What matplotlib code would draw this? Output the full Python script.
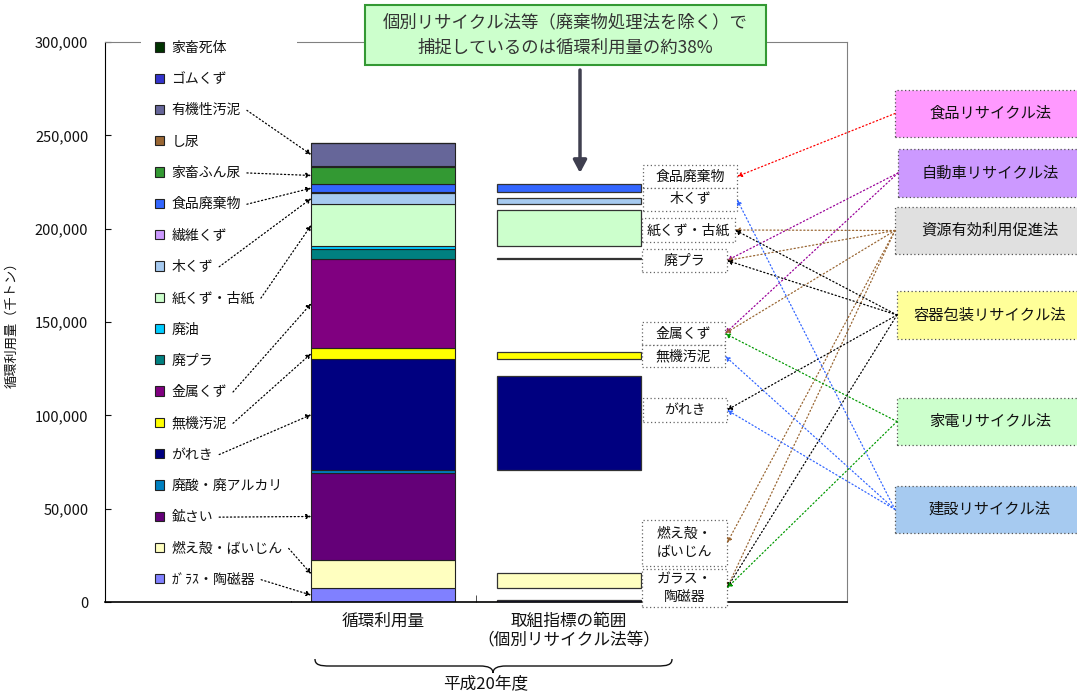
import numpy as np
import matplotlib
matplotlib.use("Agg")
import matplotlib.pyplot as plt
from matplotlib.patches import Rectangle, FancyArrowPatch, PathPatch
from matplotlib.path import Path
from matplotlib.ticker import FuncFormatter

plt.rcParams['font.family'] = ['Noto Sans CJK JP', 'DejaVu Sans']

# 循環利用量の内訳（千トン）、下から積み上げ順
items = ['ｶﾞﾗｽ・陶磁器', '燃え殻・ばいじん', '鉱さい', '廃酸・廃アルカリ', 'がれき', '無機汚泥',
         '金属くず', '廃プラ', '廃油', '紙くず・古紙', '木くず', '繊維くず', '食品廃棄物',
         '家畜ふん尿', 'し尿', '有機性汚泥', 'ゴムくず', '家畜死体']
total = [7350, 15200, 46500, 1400, 59800, 5800, 47800, 5000, 1800, 22500, 6100, 400,
         4100, 9500, 100, 12500, 100, 50]
# 個別リサイクル法等で捕捉している分
in_scope = [1100, 8400, 0, 0, 50600, 3900, 0, 700, 0, 19300, 3400, 0,
            4100, 0, 0, 0, 0, 0]
colors = ['#8080FF', '#FFFFC0', '#640078', '#0080C0', '#000080', '#FFFF00',
          '#800080', '#008080', '#00CCFF', '#CCFFCC', '#A6CAF0', '#CC99FF',
          '#3366FF', '#339933', '#996633', '#666699', '#3333CC', '#003300']
x_labels = ['循環利用量', '取組指標の範囲\n（個別リサイクル法等）']
pointed = ['有機性汚泥', '家畜ふん尿', '食品廃棄物', '木くず', '紙くず・古紙', '金属くず',
           '無機汚泥', 'がれき', '鉱さい', '燃え殻・ばいじん', 'ｶﾞﾗｽ・陶磁器']

W, H = 1077, 693


def fx(x):
    return x / W


def fy(y):
    return 1 - y / H


fig = plt.figure(figsize=(W / 100, H / 100), dpi=100)
ax = fig.add_axes([fx(105), fy(602), 742 / W, 560 / H])

bw = 0.776
bottoms = np.concatenate([[0], np.cumsum(total)[:-1]])
bars = []
for i, name in enumerate(items):
    bars.append(ax.bar(1, total[i], bottom=bottoms[i], width=bw, color=colors[i],
                       edgecolor='#222222', linewidth=0.8, label=name))
    if in_scope[i] > 0:
        ax.bar(2, in_scope[i], bottom=bottoms[i], width=bw, color=colors[i],
               edgecolor='#333333', linewidth=0.9)

ax.set_xlim(-0.5, 3.5)
ax.set_ylim(0, 300000)
ax.set_yticks(np.arange(0, 300001, 50000))
ax.yaxis.set_major_formatter(FuncFormatter(lambda v, p: f'{v:,.0f}'))
ax.tick_params(axis='y', direction='in', length=4, pad=12, labelsize=10.5, colors='#111111')
ax.set_xticks([1, 2])
ax.set_xticklabels(x_labels, fontsize=12, color='#111111')
ax.tick_params(axis='x', which='major', length=0, pad=8)
ax.set_xticks([0.5, 1.5, 2.5], minor=True)
ax.tick_params(axis='x', which='minor', direction='in', length=5, color='#333333')
ax.set_ylabel('循環利用量（千トン）', fontsize=9.5, color='#111111')
ax.yaxis.set_label_coords(-0.117, 0.5)
for s in ['top', 'right']:
    ax.spines[s].set_color('#808080')
ax.spines['left'].set_color('black')
ax.spines['bottom'].set_color('black')
ax.spines['bottom'].set_linewidth(1.2)

leg = ax.legend(handles=bars[::-1], loc='upper left', bbox_to_anchor=(0.0485, 1.027),
                borderaxespad=0, frameon=True, fancybox=False, framealpha=1,
                facecolor='white', edgecolor='none', fontsize=10, handlelength=0.65,
                handleheight=0.65, handletextpad=0.55, labelspacing=1.245, borderpad=1.0)
for t in leg.get_texts():
    t.set_color('#111111')

# 見出しの枠と下向き矢印
fig.add_artist(Rectangle((fx(365), fy(65)), 401 / W, 60 / H, transform=fig.transFigure,
                         facecolor='#CCFFCC', edgecolor='#339933', linewidth=1.5))
fig.text(fx(565), fy(22), '個別リサイクル法等（廃棄物処理法を除く）で', ha='center', va='center',
         fontsize=12.5, color='#333333')
fig.text(fx(565), fy(48), '捕捉しているのは循環利用量の約38%', ha='center', va='center',
         fontsize=12.5, color='#333333')
fig.add_artist(FancyArrowPatch((fx(580), fy(70)), (fx(580), fy(173)), transform=fig.transFigure,
                               arrowstyle='-|>,head_length=0.75,head_width=0.4', mutation_scale=10,
                               color='#3F3F4F', linewidth=2.5, shrinkA=0, shrinkB=0))

# 品目ラベル枠 (x0, y0, x1, y1)
label_boxes = {
    '食品廃棄物': ('食品廃棄物', (643, 165, 737, 188)),
    '木くず': ('木くず', (643, 188, 737, 211)),
    '紙くず・古紙': ('紙くず・古紙', (642, 218, 735, 242)),
    '廃プラ': ('廃プラ', (642, 249, 727, 272)),
    '金属くず': ('金属くず', (642, 322, 725, 345)),
    '無機汚泥': ('無機汚泥', (642, 345, 725, 367)),
    'がれき': ('がれき', (643, 398, 727, 422)),
    '燃え殻・ばいじん': ('燃え殻・\nばいじん', (642, 520, 727, 566)),
    'ガラス・陶磁器': ('ガラス・\n陶磁器', (642, 569, 727, 607)),
}
# 法律の枠
law_boxes = {
    '食品リサイクル法': ('#FF99FF', (895, 90, 1085, 137)),
    '自動車リサイクル法': ('#CC99FF', (898, 149, 1085, 197)),
    '資源有効利用促進法': ('#E0E0E0', (895, 207, 1085, 254)),
    '容器包装リサイクル法': ('#FFFF99', (897, 291, 1085, 339)),
    '家電リサイクル法': ('#CCFFCC', (897, 398, 1085, 445)),
    '建設リサイクル法': ('#A6CAF0', (895, 486, 1085, 533)),
}
law_colors = {
    '食品リサイクル法': '#FF0000',
    '自動車リサイクル法': '#990099',
    '資源有効利用促進法': '#996633',
    '容器包装リサイクル法': '#000000',
    '家電リサイクル法': '#009900',
    '建設リサイクル法': '#3366FF',
}
links = [
    ('食品リサイクル法', '食品廃棄物'),
    ('自動車リサイクル法', '廃プラ'), ('自動車リサイクル法', '金属くず'),
    ('資源有効利用促進法', '紙くず・古紙'), ('資源有効利用促進法', '廃プラ'),
    ('資源有効利用促進法', '金属くず'), ('資源有効利用促進法', '燃え殻・ばいじん'),
    ('資源有効利用促進法', 'ガラス・陶磁器'),
    ('容器包装リサイクル法', '紙くず・古紙'), ('容器包装リサイクル法', '廃プラ'),
    ('容器包装リサイクル法', 'がれき'), ('容器包装リサイクル法', 'ガラス・陶磁器'),
    ('家電リサイクル法', '金属くず'), ('家電リサイクル法', 'ガラス・陶磁器'),
    ('建設リサイクル法', '木くず'), ('建設リサイクル法', '無機汚泥'),
    ('建設リサイクル法', 'がれき'),
]

dot = (0, (1, 2))


def box(rect, fc, ec):
    x0, y0, x1, y1 = rect
    fig.add_artist(Rectangle((fx(x0), fy(y1)), (x1 - x0) / W, (y1 - y0) / H,
                             transform=fig.transFigure, facecolor=fc, edgecolor=ec,
                             linewidth=0.9, linestyle=dot, zorder=2))


for key, (text, rect) in label_boxes.items():
    box(rect, 'white', '#666666')
    fig.text(fx((rect[0] + rect[2]) / 2), fy((rect[1] + rect[3]) / 2), text, ha='center',
             va='center', fontsize=10, color='#111111', linespacing=1.3, zorder=3)

for key, (fc, rect) in law_boxes.items():
    box(rect, fc, '#555555')
    fig.text(fx(990), fy((rect[1] + rect[3]) / 2), key, ha='center', va='center',
             fontsize=11, color='#111111', zorder=3)

for law, item in links:
    lx0, ly0, lx1, ly1 = law_boxes[law][1]
    bx0, by0, bx1, by1 = label_boxes[item][1]
    fig.add_artist(FancyArrowPatch((fx(lx0), fy((ly0 + ly1) / 2)), (fx(bx1), fy((by0 + by1) / 2)),
                                   transform=fig.transFigure, arrowstyle='-|>', mutation_scale=7,
                                   color=law_colors[law], linewidth=0.9, linestyle=dot,
                                   shrinkA=0, shrinkB=0, zorder=4))

# 年度の中括弧
verts = [(315, 659), (315, 665), (320, 666), (330, 666), (480, 666),
         (488, 666), (493, 668), (493, 673), (493, 668), (498, 666), (506, 666),
         (657, 666), (667, 666), (672, 665), (672, 659)]
codes = [Path.MOVETO, Path.CURVE4, Path.CURVE4, Path.CURVE4, Path.LINETO,
         Path.CURVE4, Path.CURVE4, Path.CURVE4, Path.CURVE4, Path.CURVE4, Path.CURVE4,
         Path.LINETO, Path.CURVE4, Path.CURVE4, Path.CURVE4]
brace = Path([(fx(a), fy(b)) for a, b in verts], codes)
fig.add_artist(PathPatch(brace, transform=fig.transFigure, facecolor='none',
                         edgecolor='#111111', linewidth=1.0))
fig.text(fx(486), fy(684), '平成20年度', ha='center', va='center', fontsize=12, color='#111111')

# 凡例から棒への点線矢印
fig.canvas.draw()
for t in leg.get_texts():
    name = t.get_text()
    if name not in pointed:
        continue
    i = items.index(name)
    bb = t.get_window_extent()
    ax.annotate('', xy=(1 - bw / 2, bottoms[i] + total[i] / 2), xycoords='data',
                xytext=(bb.x1 + 6, (bb.y0 + bb.y1) / 2), textcoords='figure pixels',
                arrowprops=dict(arrowstyle='-|>', color='black', linewidth=0.9, linestyle=dot,
                                mutation_scale=7, shrinkA=0, shrinkB=0),
                zorder=6)

fig.savefig('out.png', dpi=100, facecolor='white')
